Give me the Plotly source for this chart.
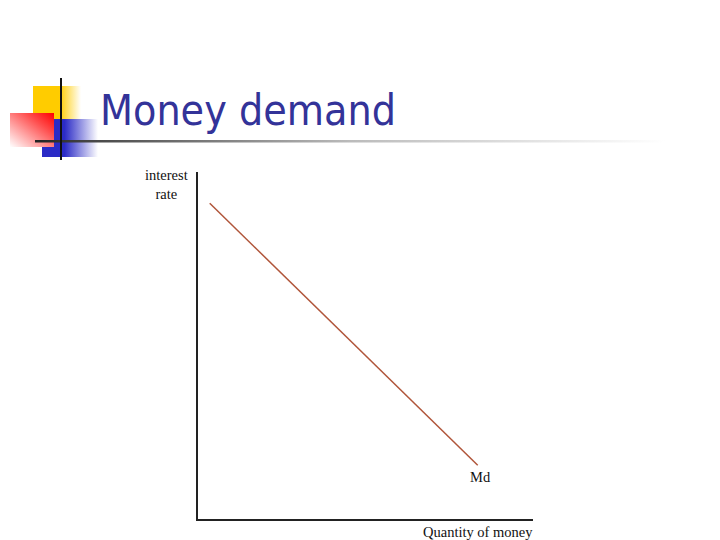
import base64
import plotly.graph_objects as go

W, H = 720, 540

# ---- data ----
quantity = [0.35, 8.35]        # quantity of money (arbitrary units)
interest_rate = [9.1, 1.55]    # interest rate (arbitrary units)
curve_label = "Md"
title_text = "Money demand"
x_label = "Quantity of money"
y_label = "interest<br>rate"

# ---- decoration (slide bullet logo + rule) as SVG ----
svg = f'''<svg xmlns="http://www.w3.org/2000/svg" width="{W}" height="{H}" viewBox="0 0 {W} {H}">
<defs>
<linearGradient id="gy" x1="0" y1="0" x2="1" y2="0">
<stop offset="0" stop-color="#FFCC00"/><stop offset="0.55" stop-color="#FFCC00"/><stop offset="1" stop-color="#FFFFFF"/>
</linearGradient>
<linearGradient id="gb" x1="0" y1="0" x2="1" y2="0">
<stop offset="0" stop-color="#2B2BC6"/><stop offset="0.4" stop-color="#2B2BC6"/><stop offset="1" stop-color="#FFFFFF"/>
</linearGradient>
<linearGradient id="gr" x1="1" y1="0" x2="0" y2="1">
<stop offset="0" stop-color="#FF0000"/><stop offset="0.3" stop-color="#FF4848"/><stop offset="1" stop-color="#FFFFFF"/>
</linearGradient>
<linearGradient id="gl" x1="0" y1="0" x2="1" y2="0">
<stop offset="0" stop-color="#222222"/><stop offset="0.08" stop-color="#444444"/><stop offset="0.5" stop-color="#BBBBBB"/><stop offset="1" stop-color="#FFFFFF"/>
</linearGradient>
</defs>
<rect x="33" y="86" width="48" height="33" fill="url(#gy)"/>
<rect x="42" y="119" width="56" height="38" fill="url(#gb)"/>
<rect x="10" y="113" width="44" height="34" fill="url(#gr)"/>
<rect x="35" y="140" width="630" height="2.5" fill="url(#gl)"/>
<rect x="60" y="78" width="2" height="82" fill="#111111"/>
</svg>'''
src = "data:image/svg+xml;base64," + base64.b64encode(svg.encode()).decode()

# plot area in pixels
x0, x1 = 198, 533
y_top, y_bot = 172, 519

fig = go.Figure()
fig.add_trace(go.Scatter(
    x=quantity, y=interest_rate, mode="lines",
    line=dict(color="#B0553A", width=1.5),
    xaxis="x", yaxis="y", showlegend=False, hoverinfo="skip",
))

def px(x):
    return x / W

def py(y):
    return 1 - y / H

fig.update_layout(
    width=W, height=H,
    margin=dict(l=0, r=0, t=0, b=0),
    paper_bgcolor="white", plot_bgcolor="rgba(0,0,0,0)",
    xaxis=dict(domain=[px(x0), px(x1)], range=[0, 10], showgrid=False, zeroline=False,
               showticklabels=False, ticks="", showline=True, linecolor="#222222", linewidth=2),
    yaxis=dict(domain=[py(y_bot), py(y_top)], range=[0, 10], showgrid=False, zeroline=False,
               showticklabels=False, ticks="", showline=True, linecolor="#222222", linewidth=2),
    images=[dict(source=src, xref="paper", yref="paper", x=0, y=1, sizex=1, sizey=1,
                 xanchor="left", yanchor="top", sizing="stretch", layer="below")],
    annotations=[
        dict(text=title_text, xref="paper", yref="paper", x=px(98), y=py(111),
             xanchor="left", yanchor="middle", showarrow=False,
             font=dict(family="DejaVu Sans Condensed", size=42.5, color="#333399")),
        dict(text=y_label, xref="paper", yref="paper", x=px(166), y=py(185),
             xanchor="center", yanchor="middle", showarrow=False, align="center",
             font=dict(family="Liberation Serif", size=14.5, color="#111111")),
        dict(text=curve_label, xref="x", yref="y", x=quantity[-1], y=interest_rate[-1],
             xanchor="center", yanchor="top", yshift=-2, xshift=3, showarrow=False,
             font=dict(family="Liberation Serif", size=14.5, color="#111111")),
        dict(text=x_label, xref="paper", yref="paper", x=px(478), y=py(532),
             xanchor="center", yanchor="middle", showarrow=False,
             font=dict(family="Liberation Serif", size=14.5, color="#111111")),
    ],
)

fig.write_html("out.html", config={"displayModeBar": False},
               post_script="document.body.style.margin='0';document.body.style.overflow='hidden';")
